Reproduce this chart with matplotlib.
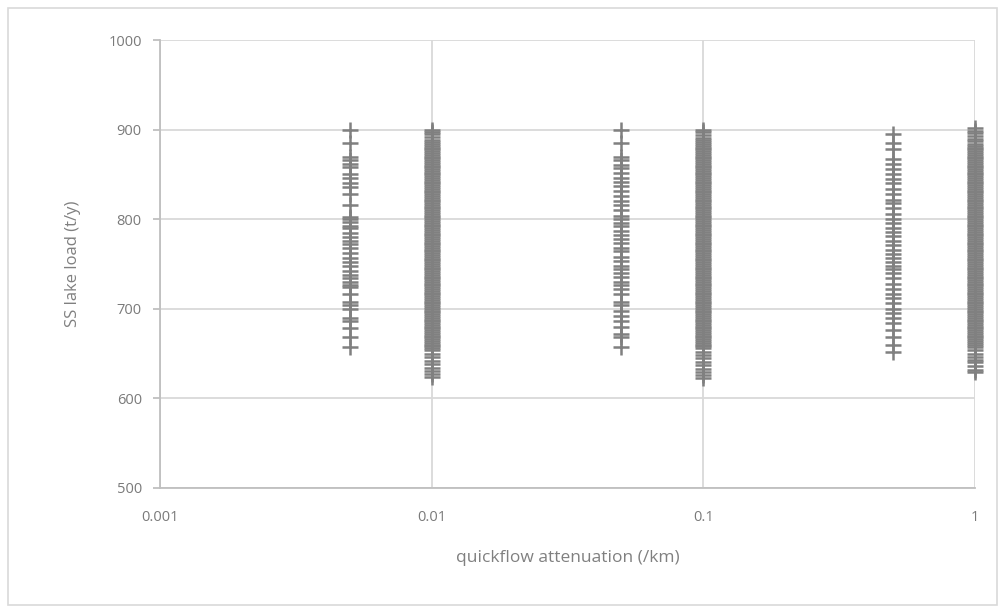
import matplotlib.pyplot as plt
from matplotlib.patches import Rectangle

# attenuation values (x) and SS lake loads (y) for each run group
x_0005 = 0.005
y_0005 = [900, 885, 870, 866, 862, 858, 850, 846, 840, 836, 828, 816, 803, 800,
          797, 793, 790, 785, 780, 776, 772, 768, 762, 757, 752, 748, 742, 738,
          734, 730, 727, 724, 716, 708, 704, 700, 690, 686, 678, 668, 657]

x_001 = 0.01
y_001 = [900, 898, 895, 892, 888, 886, 884, 882, 880, 878, 876, 874, 872, 870,
         868, 866, 864, 862, 860, 858, 856, 854, 852, 850, 848, 846, 844, 842,
         840, 838, 836, 834, 832, 830, 828, 826, 824, 822, 820, 818, 816, 814,
         812, 810, 808, 806, 804, 802, 800, 798, 796, 794, 792, 790, 788, 786,
         784, 782, 780, 778, 776, 774, 772, 770, 768, 766, 764, 762, 760, 758,
         756, 754, 752, 750, 748, 746, 744, 742, 740, 738, 736, 734, 732, 730,
         728, 726, 724, 722, 720, 718, 716, 714, 712, 710, 708, 706, 704, 702,
         700, 698, 696, 694, 692, 690, 688, 686, 684, 682, 680, 678, 676, 674,
         672, 670, 668, 666, 664, 662, 660, 658, 656, 654, 650, 646, 642, 638,
         634, 630, 627, 624]

x_005 = 0.05
y_005 = [900, 885, 870, 866, 861, 857, 852, 846, 842, 837, 832, 826, 820, 816,
         810, 804, 800, 796, 792, 787, 782, 778, 773, 768, 764, 758, 753, 748,
         744, 740, 736, 730, 726, 722, 716, 708, 704, 698, 692, 686, 680, 672,
         668, 657]

x_01 = 0.1
y_01 = [900, 897, 894, 891, 888, 886, 884, 882, 880, 878, 876, 874, 872, 870,
        868, 866, 864, 862, 860, 858, 856, 854, 852, 850, 848, 846, 844, 842,
        840, 838, 836, 834, 832, 830, 828, 826, 824, 822, 820, 818, 816, 814,
        812, 810, 808, 806, 804, 802, 800, 798, 796, 794, 792, 790, 788, 786,
        784, 782, 780, 778, 776, 774, 772, 770, 768, 766, 764, 762, 760, 758,
        756, 754, 752, 750, 748, 746, 744, 742, 740, 738, 736, 734, 732, 730,
        728, 726, 724, 722, 720, 718, 716, 714, 712, 710, 708, 706, 704, 702,
        700, 698, 696, 694, 692, 690, 688, 686, 684, 682, 680, 678, 676, 674,
        672, 670, 668, 666, 664, 662, 660, 658, 656, 652, 648, 645, 641, 637,
        633, 629, 626, 623]

x_05 = 0.5
y_05 = [895, 885, 878, 867, 862, 856, 851, 845, 840, 834, 828, 822, 818, 812,
        806, 800, 796, 790, 786, 781, 776, 771, 766, 761, 757, 752, 748, 744,
        740, 734, 728, 722, 717, 712, 706, 700, 695, 690, 684, 676, 668, 660, 652]

x_1 = 1.0
y_1 = [902, 899, 896, 893, 890, 887, 884, 882, 880, 878, 876, 874, 872, 870,
       868, 866, 864, 862, 860, 858, 856, 854, 852, 850, 848, 846, 844, 842,
       840, 838, 836, 834, 832, 830, 828, 826, 824, 822, 820, 818, 816, 814,
       812, 810, 808, 806, 804, 802, 800, 798, 796, 794, 792, 790, 788, 786,
       784, 782, 780, 778, 776, 774, 772, 770, 768, 766, 764, 762, 760, 758,
       756, 754, 752, 750, 748, 746, 744, 742, 740, 738, 736, 734, 732, 730,
       728, 726, 724, 722, 720, 718, 716, 714, 712, 710, 708, 706, 704, 702,
       700, 698, 696, 694, 692, 690, 688, 686, 684, 682, 680, 678, 676, 674,
       672, 670, 668, 666, 664, 662, 660, 657, 654, 650, 646, 643, 640, 636,
       632, 629]

groups = [(x_0005, y_0005), (x_001, y_001), (x_005, y_005),
          (x_01, y_01), (x_05, y_05), (x_1, y_1)]

xticks = [0.001, 0.01, 0.1, 1]
xticklabels = ['0.001', '0.01', '0.1', '1']
yticks = [500, 600, 700, 800, 900, 1000]

plt.rcParams['font.family'] = ['Open Sans', 'DejaVu Sans']

fig = plt.figure(figsize=(9.99, 6.09), dpi=100)
ax = fig.add_axes([0.160, 0.199, 0.816, 0.735])

for gx, gy in groups:
    ax.plot([gx] * len(gy), gy, linestyle='none', marker='+', markersize=12,
            markeredgewidth=1.8, color='#808080', clip_on=False, zorder=3)

ax.set_xscale('log')
ax.set_xlim(0.001, 1)
ax.set_ylim(500, 1000)
ax.set_xticks(xticks)
ax.set_xticklabels(xticklabels)
ax.minorticks_off()
ax.set_yticks(yticks)

ax.grid(True, color='#d9d9d9', linewidth=1.3)
ax.set_axisbelow(True)
for s in ['top', 'right']:
    ax.spines[s].set_visible(False)
ax.spines['left'].set_color('#bfbfbf')
ax.spines['bottom'].set_color('#bfbfbf')
ax.spines['left'].set_linewidth(1.3)
ax.spines['bottom'].set_linewidth(1.3)

ax.tick_params(axis='y', colors='#7a7a7a', labelsize=10.5, length=5, width=1.3,
               color='#bfbfbf', pad=8)
ax.tick_params(axis='x', colors='#7a7a7a', labelsize=10.5, length=0, pad=16)

ax.set_xlabel('quickflow attenuation (/km)', color='#808080', fontsize=12.5,
              labelpad=18)
ax.set_ylabel('SS lake load (t/y)', color='#808080', fontsize=12, labelpad=20)

fig.patches.append(Rectangle((8 / 999, 4 / 609), 989 / 999, 597 / 609,
                             transform=fig.transFigure, fill=False,
                             edgecolor='#d9d9d9', linewidth=1.2))

fig.savefig('out.png', dpi=100)
